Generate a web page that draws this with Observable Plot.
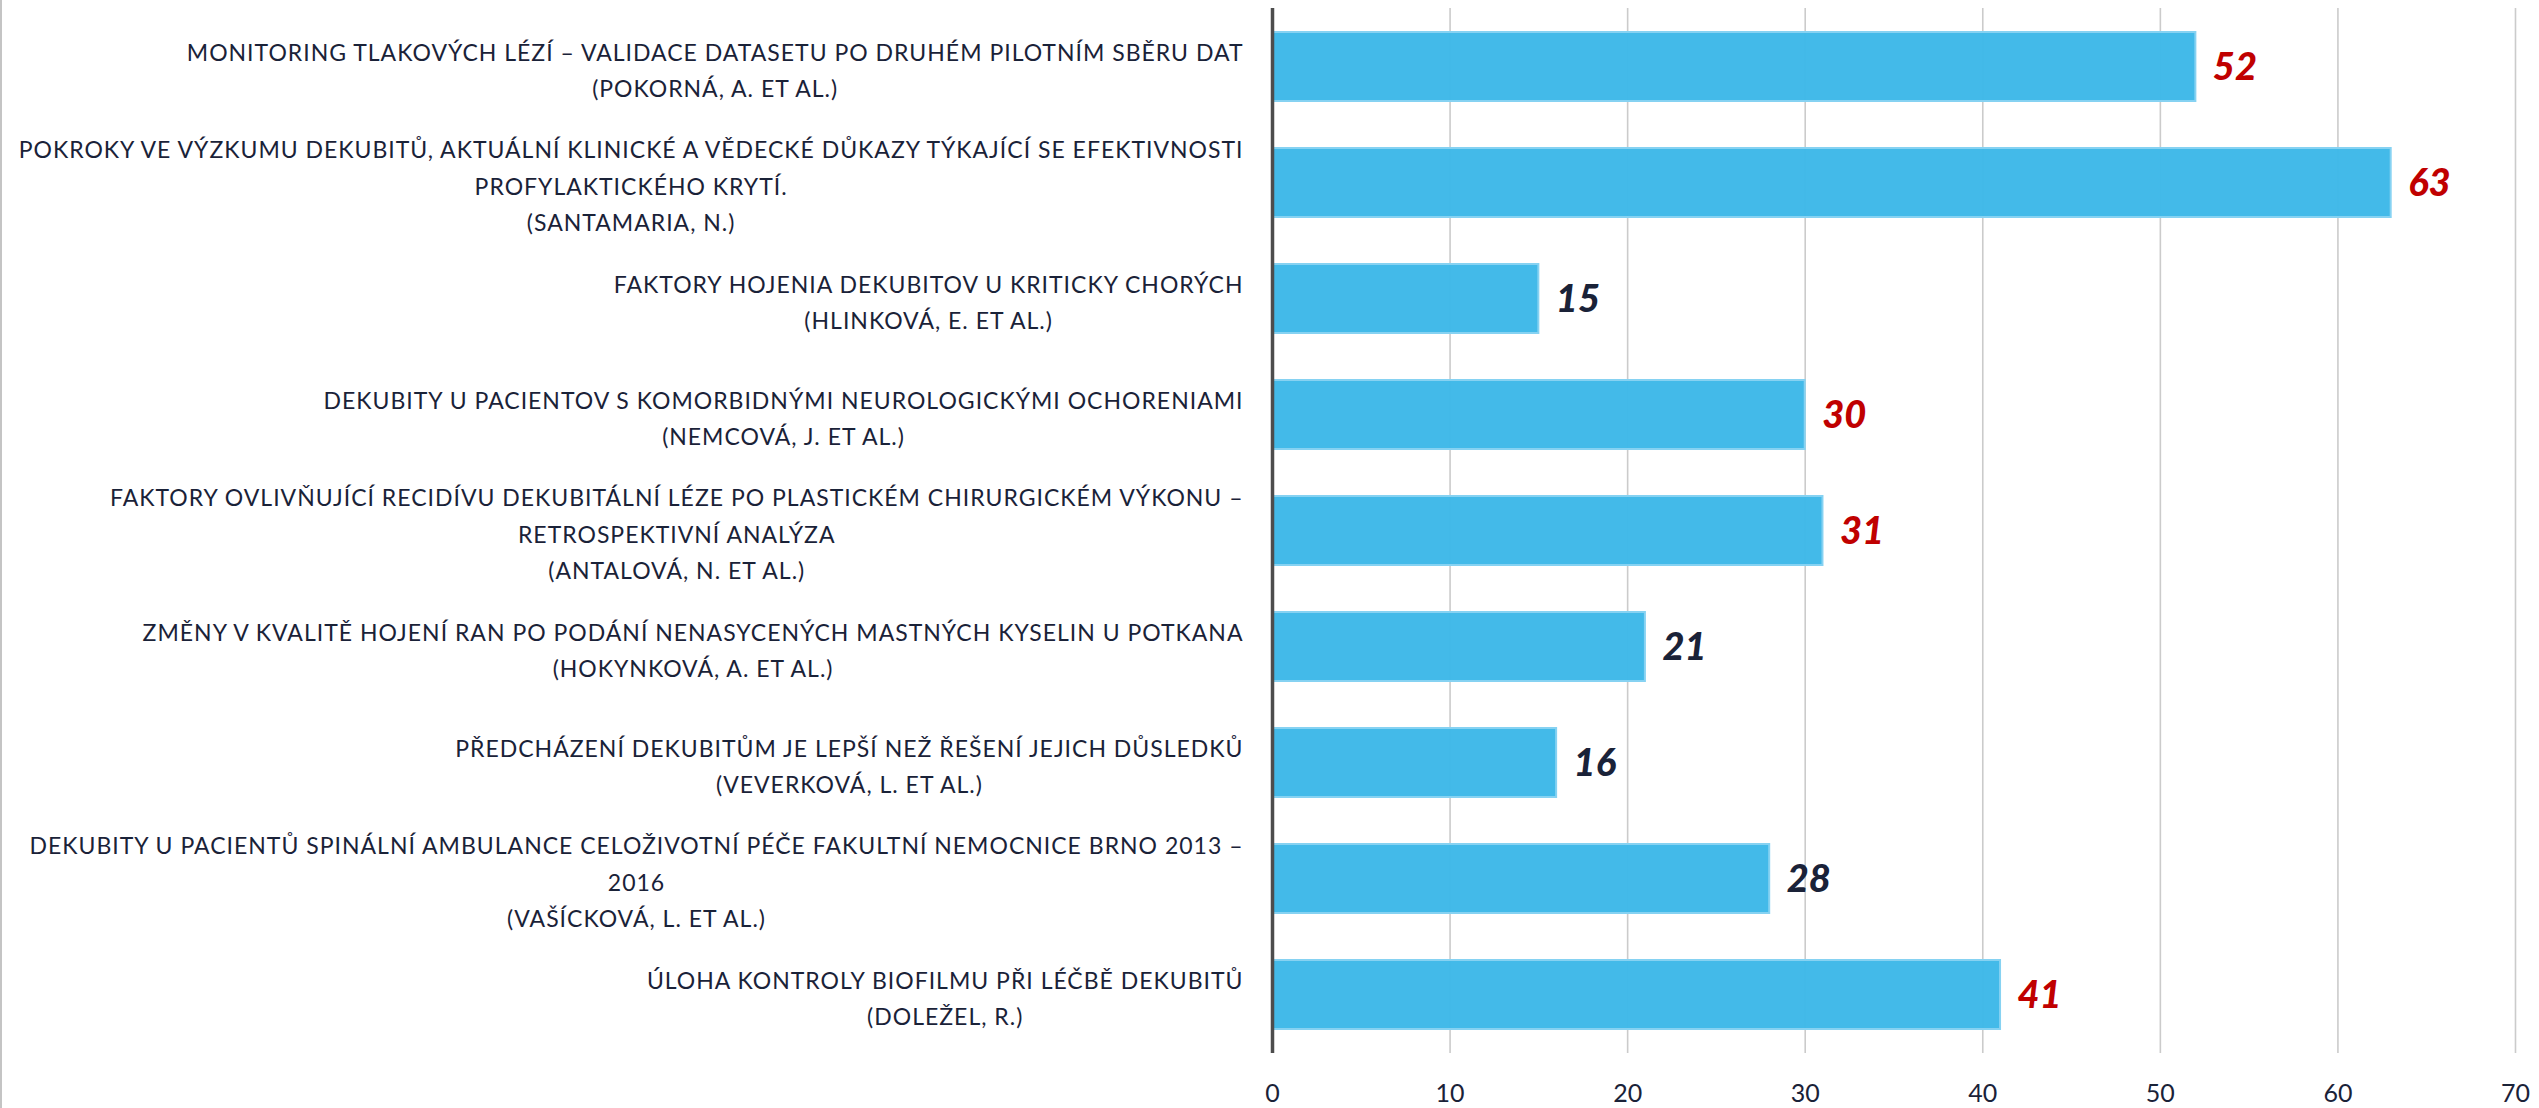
<!DOCTYPE html>
<html><head><meta charset="utf-8">
<script src="https://cdn.jsdelivr.net/npm/d3@7"></script>
<script src="https://cdn.jsdelivr.net/npm/@observablehq/plot@0.6"></script>
<style>
body{margin:0;background:#fff}
#chart{width:2539px;height:1108px;box-shadow:inset 2px 0 #c4c4c4;background:#fff}
#chart svg{background:transparent;display:block}
</style>
</head><body><div id="chart"></div>
<script>
// ---- data ----
const titles = [
  "MONITORING TLAKOVÝCH LÉZÍ – VALIDACE DATASETU PO DRUHÉM PILOTNÍM SBĚRU DAT\n(POKORNÁ, A. ET AL.)",
  "POKROKY VE VÝZKUMU DEKUBITŮ, AKTUÁLNÍ KLINICKÉ A VĚDECKÉ DŮKAZY TÝKAJÍCÍ SE EFEKTIVNOSTI\nPROFYLAKTICKÉHO KRYTÍ.\n(SANTAMARIA, N.)",
  "FAKTORY HOJENIA DEKUBITOV U KRITICKY CHORÝCH\n(HLINKOVÁ, E. ET AL.)",
  "DEKUBITY U PACIENTOV S KOMORBIDNÝMI NEUROLOGICKÝMI OCHORENIAMI\n(NEMCOVÁ, J. ET AL.)",
  "FAKTORY OVLIVŇUJÍCÍ RECIDÍVU DEKUBITÁLNÍ LÉZE PO PLASTICKÉM CHIRURGICKÉM VÝKONU –\nRETROSPEKTIVNÍ ANALÝZA\n(ANTALOVÁ, N. ET AL.)",
  "ZMĚNY V KVALITĚ HOJENÍ RAN PO PODÁNÍ NENASYCENÝCH MASTNÝCH KYSELIN U POTKANA\n(HOKYNKOVÁ, A. ET AL.)",
  "PŘEDCHÁZENÍ DEKUBITŮM JE LEPŠÍ NEŽ ŘEŠENÍ JEJICH DŮSLEDKŮ\n(VEVERKOVÁ, L. ET AL.)",
  "DEKUBITY U PACIENTŮ SPINÁLNÍ AMBULANCE CELOŽIVOTNÍ PÉČE FAKULTNÍ NEMOCNICE BRNO 2013 –\n2016\n(VAŠÍCKOVÁ, L. ET AL.)",
  "ÚLOHA KONTROLY BIOFILMU PŘI LÉČBĚ DEKUBITŮ\n(DOLEŽEL, R.)"
];
const values = [52, 63, 15, 30, 31, 21, 16, 28, 41];
const xTicks = [0, 10, 20, 30, 40, 50, 60, 70];
const gridTicks = [10, 20, 30, 40, 50, 60, 70];

const data = titles.map((t, i) => ({title: t, value: values[i]}));
const RED = "#c00000", NAVY = "#1a2238";
const FONT = "Lato, 'Open Sans', sans-serif";

const plot = Plot.plot({
  width: 2539,
  height: 1108,
  marginTop: 8,
  marginBottom: 55,
  marginLeft: 1272,
  marginRight: 24,
  style: {fontFamily: FONT, color: NAVY, background: "transparent"},
  x: {domain: [0, 70], ticks: xTicks, label: null},
  y: {domain: titles, label: null, paddingInner: 0.405, paddingOuter: 0.2025},
  marks: [
    Plot.ruleX(gridTicks, {stroke: "#cbcbcb", strokeWidth: 1.6}),
    Plot.barX(data, {x: "value", y: "title", fill: "#3db8e8", fillOpacity: 0.97, stroke: "#86d2f2", strokeWidth: 2}),
    Plot.ruleX([0], {stroke: "#4d4d4d", strokeWidth: 3.5}),
    Plot.text(data, {
      x: "value", y: "title", text: d => String(d.value),
      dx: 17, dy: 1, textAnchor: "start",
      fontSize: 38, fontWeight: 900, fontStyle: "italic",
      fill: d => d.value >= 30 ? RED : NAVY
    }),
    Plot.axisX({ticks: xTicks, tickSize: 0, tickPadding: 31, fontSize: 25, fill: NAVY, label: null}),
    Plot.axisY({tickSize: 0, tickPadding: 29, fontSize: 23, fill: NAVY, lineHeight: 1.57, label: null})
  ]
});
document.getElementById("chart").appendChild(plot);

// centre the lines of each multi-line category label within its right-aligned block (as in Excel)
const yLabels = plot.querySelector('g[aria-label="y-axis tick label"]');
if (yLabels) {
  yLabels.style.letterSpacing = "1px";
  for (const t of yLabels.querySelectorAll("text")) {
    const bb = t.getBBox();
    t.setAttribute("text-anchor", "middle");
    const tr = t.getAttribute("transform") || "";
    t.setAttribute("transform", tr + ` translate(${bb.x + bb.width / 2},0)`);
  }
}
</script></body></html>
